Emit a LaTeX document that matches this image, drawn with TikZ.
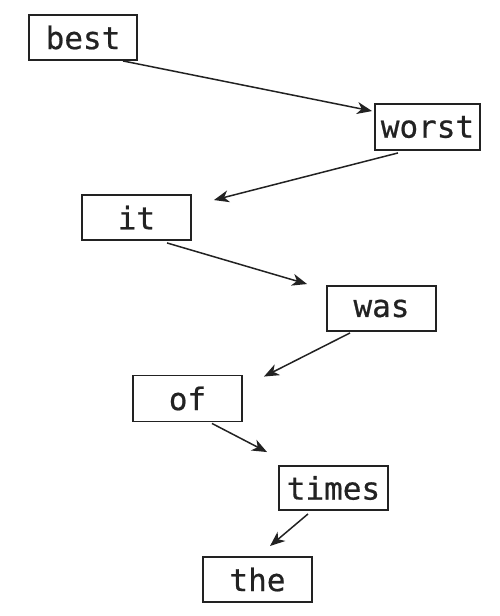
\documentclass[tikz,border=0pt]{standalone}
\usepackage{fontspec}
\setmonofont[FakeBold=0.6]{DejaVu Sans Mono}
\usetikzlibrary{arrows.meta}
\definecolor{ink}{HTML}{222222}
\tikzset{
  word/.style={draw=ink, line width=1.9pt, inner sep=0pt, minimum width=108pt, minimum height=45pt,
    font=\ttfamily\fontsize{31}{36}\selectfont, text=ink},
  link/.style={draw=ink, line width=1.5pt, -{Stealth[length=15pt,width=12pt,inset=4.5pt]}}
}
\begin{document}
\begin{tikzpicture}[x=1pt,y=-1pt]
\useasboundingbox (0,0) rectangle (500,616);
\node[word] (best) at (83,37.5) {best};
\node[word, minimum width=105pt, minimum height=46pt] (worst) at (427.5,127) {worst};
\node[word, minimum width=109pt] (it) at (136.5,217.5) {it};
\node[word, minimum width=109pt] (was) at (381.5,308.5) {was};
\node[word, minimum width=109pt, minimum height=46pt] (of) at (187.5,398.5) {of};
\node[word, minimum width=109pt, minimum height=44pt] (times) at (333.5,488) {times};
\node[word, minimum width=109pt] (the) at (257.5,579.5) {the};
\draw[link] ([xshift=40pt]best.south) -- ([xshift=-2pt,yshift=-8pt]worst.north west);
\draw[link] ([xshift=-29.5pt,yshift=-2pt]worst.south) -- ([xshift=22pt,yshift=-6pt]it.north east);
\draw[link] ([xshift=30.5pt,yshift=-2pt]it.south) -- ([xshift=-19pt,yshift=1pt]was.north west);
\draw[link] ([xshift=-31.5pt,yshift=-1pt]was.south) -- ([xshift=21pt,yshift=-2pt]of.north east);
\draw[link] ([xshift=24.5pt,yshift=-1pt]of.south) -- ([xshift=-11pt,yshift=13pt]times.north west);
\draw[link] ([xshift=-25.5pt,yshift=-3pt]times.south) -- ([xshift=12.5pt,yshift=10pt]the.north);
\end{tikzpicture}
\end{document}
